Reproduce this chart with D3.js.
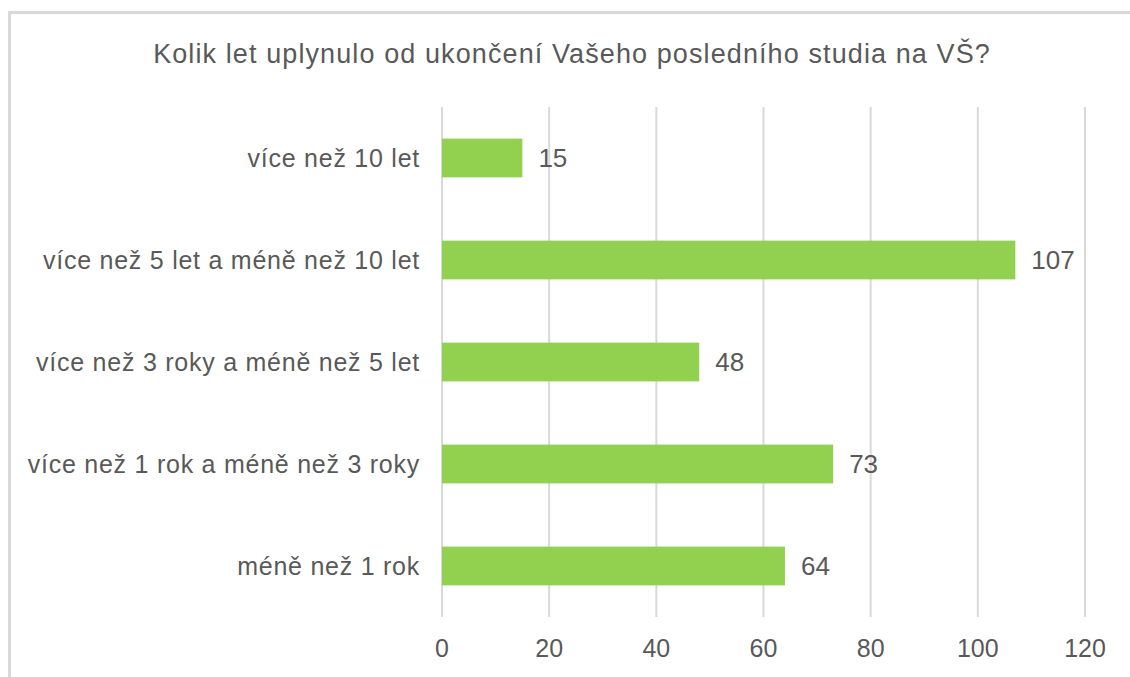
<!DOCTYPE html>
<html>
<head>
    <meta charset="utf-8">
    <title>Kolik let uplynulo</title>
    <style type="text/css">
        body {
            margin: 0;
            background: #fff;
            font-family: 'Liberation Sans', Arial, sans-serif;
        }
        .frame {
            fill: none;
            stroke: #d9d9d9;
            stroke-width: 3px;
        }
        .grid line {
            stroke: #d9d9d9;
            stroke-width: 2px;
        }
        .bar {
            fill: #92d050;
        }
        text {
            fill: #595959;
        }
    </style>
</head>
<body>
<script src="https://d3js.org/d3.v7.min.js"></script>
<script>

    var width = 1130,
        height = 677;

    // data
    var categories = ["více než 10 let", "více než 5 let a méně než 10 let", "více než 3 roky a méně než 5 let",
                      "více než 1 rok a méně než 3 roky", "méně než 1 rok"];
    var values = [15, 107, 48, 73, 64];
    var xTicks = [0, 20, 40, 60, 80, 100, 120];
    var title = "Kolik let uplynulo od ukončení Vašeho posledního studia na VŠ?";

    var plot = {left: 442, right: 1085, top: 107, bottom: 617};

    var x = d3.scaleLinear()
        .domain([0, 120])
        .range([plot.left, plot.right]);

    var y = d3.scaleBand()
        .domain(categories)
        .range([plot.top, plot.bottom])
        .paddingInner(0.62)
        .paddingOuter(0.31);

    var svg = d3.select("body").append("svg")
        .attr("width", width)
        .attr("height", height);

    // frame (runs off right and bottom)
    svg.append("rect")
        .attr("class", "frame")
        .attr("x", 9.5)
        .attr("y", 12.5)
        .attr("width", 1140)
        .attr("height", 700);

    // title
    svg.append("text")
        .attr("x", 572)
        .attr("y", 63)
        .attr("text-anchor", "middle")
        .style("font-size", "27px")
        .style("letter-spacing", "1.1px")
        .text(title);

    // gridlines
    svg.append("g").attr("class", "grid")
        .selectAll("line")
        .data(xTicks).enter()
        .append("line")
        .attr("x1", function (d) { return x(d); })
        .attr("x2", function (d) { return x(d); })
        .attr("y1", plot.top)
        .attr("y2", plot.bottom);

    // x axis labels
    svg.append("g")
        .selectAll("text")
        .data(xTicks).enter()
        .append("text")
        .attr("x", function (d) { return x(d); })
        .attr("y", 657)
        .attr("text-anchor", "middle")
        .style("font-size", "25px")
        .text(function (d) { return d; });

    // bars
    svg.append("g")
        .selectAll("rect")
        .data(values).enter()
        .append("rect")
        .attr("class", "bar")
        .attr("x", x(0))
        .attr("y", function (d, i) { return y(categories[i]); })
        .attr("width", function (d) { return x(d) - x(0); })
        .attr("height", y.bandwidth());

    // category labels
    svg.append("g")
        .selectAll("text")
        .data(categories).enter()
        .append("text")
        .attr("x", 420)
        .attr("y", function (d) { return y(d) + y.bandwidth() / 2; })
        .attr("dy", "0.35em")
        .attr("text-anchor", "end")
        .style("font-size", "25px")
        .style("letter-spacing", "0.75px")
        .text(function (d) { return d; });

    // value labels
    svg.append("g")
        .selectAll("text")
        .data(values).enter()
        .append("text")
        .attr("x", function (d) { return x(d) + 16; })
        .attr("y", function (d, i) { return y(categories[i]) + y.bandwidth() / 2; })
        .attr("dy", "0.35em")
        .style("font-size", "26px")
        .text(function (d) { return d; });

</script>
</body>
</html>
